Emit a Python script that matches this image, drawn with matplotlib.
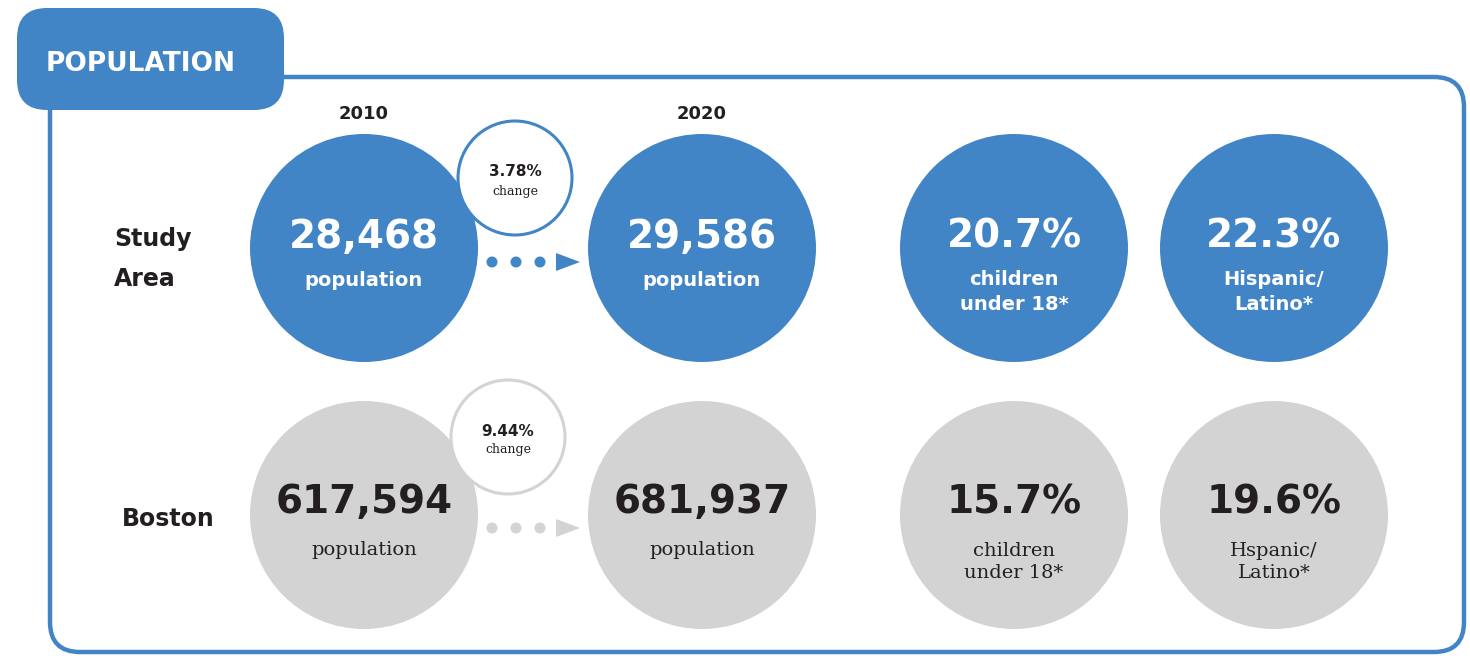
import matplotlib.pyplot as plt
from matplotlib.patches import Circle, FancyBboxPatch, Polygon

BLUE = "#4285c6"
GRAY = "#d3d3d3"
DARK = "#231f20"

years = ["2010", "2020"]
rows = ["Study\nArea", "Boston"]
study_values = ["28,468", "29,586", "20.7%", "22.3%"]
study_labels = ["population", "population", "children\nunder 18*", "Hispanic/\nLatino*"]
boston_values = ["617,594", "681,937", "15.7%", "19.6%"]
boston_labels = ["population", "population", "children\nunder 18*", "Hspanic/\nLatino*"]
changes = ["3.78%", "9.44%"]

SANS = "DejaVu Sans"
SERIF = "DejaVu Serif"

fig = plt.figure(figsize=(14.7, 6.56), dpi=100)
ax = fig.add_axes([0, 0, 1, 1])
ax.set_xlim(0, 1470)
ax.set_ylim(656, 0)
ax.set_aspect("equal")
ax.axis("off")

# outer frame
frame = FancyBboxPatch((50, 77), 1414, 575, boxstyle="round,pad=0,rounding_size=30",
                       fc="white", ec=BLUE, lw=3.2)
ax.add_patch(frame)
# title tab
tab = FancyBboxPatch((17, 8), 267, 102, boxstyle="round,pad=0,rounding_size=30",
                     fc=BLUE, ec="none")
ax.add_patch(tab)
ax.text(141, 64, "POPULATION", color="white", fontsize=19, fontweight="bold",
        family=SANS, ha="center", va="center")

col_x = [364, 702, 1014, 1274]
row_y = [248, 515]
R = 114

for x, yr in zip(col_x[:2], years):
    ax.text(x, 114, yr, fontsize=13, fontweight="bold", color=DARK, family=SANS,
            ha="center", va="center")

ax.text(114, 259, rows[0], fontsize=17, fontweight="bold", color=DARK, family=SANS,
        ha="left", va="center", linespacing=1.85)
ax.text(168, 519, rows[1], fontsize=17, fontweight="bold", color=DARK, family=SANS,
        ha="center", va="center")

# study area row
for x, v, lab in zip(col_x, study_values, study_labels):
    ax.add_patch(Circle((x, row_y[0]), R, fc=BLUE, ec="none"))
    ax.text(x, 237, v, fontsize=28, fontweight="bold", color="white", family=SANS,
            ha="center", va="center")
    ax.text(x, 292 if "\n" in lab else 280, lab, fontsize=14, fontweight="bold",
            color="white", family=SANS, ha="center", va="center", linespacing=1.4)

# boston row
for x, v, lab in zip(col_x, boston_values, boston_labels):
    ax.add_patch(Circle((x, row_y[1]), R, fc=GRAY, ec="none"))
    ax.text(x, 502, v, fontsize=28, fontweight="bold", color=DARK, family=SANS,
            ha="center", va="center")
    ax.text(x, 562 if "\n" in lab else 550, lab, fontsize=14, color=DARK,
            family=SERIF, ha="center", va="center", linespacing=1.35)

# change bubbles
bubbles = [((515, 178), BLUE), ((508, 437), GRAY)]
for (c, col), ch in zip(bubbles, changes):
    ax.add_patch(Circle(c, 57, fc="white", ec=col, lw=2.2))
    ax.text(c[0], c[1] - 6, ch, fontsize=11, fontweight="bold", color=DARK,
            family=SANS, ha="center", va="center")
    ax.text(c[0], c[1] + 13, "change", fontsize=9, color=DARK, family=SERIF,
            ha="center", va="center")

# dotted arrows
for y, col in [(262, BLUE), (528, GRAY)]:
    for dx in [492, 516, 540]:
        ax.add_patch(Circle((dx, y), 5.5, fc=col, ec="none"))
    ax.add_patch(Polygon([[556, y - 9], [556, y + 9], [580, y]], closed=True, fc=col, ec="none"))

fig.savefig("out.png", dpi=100)
